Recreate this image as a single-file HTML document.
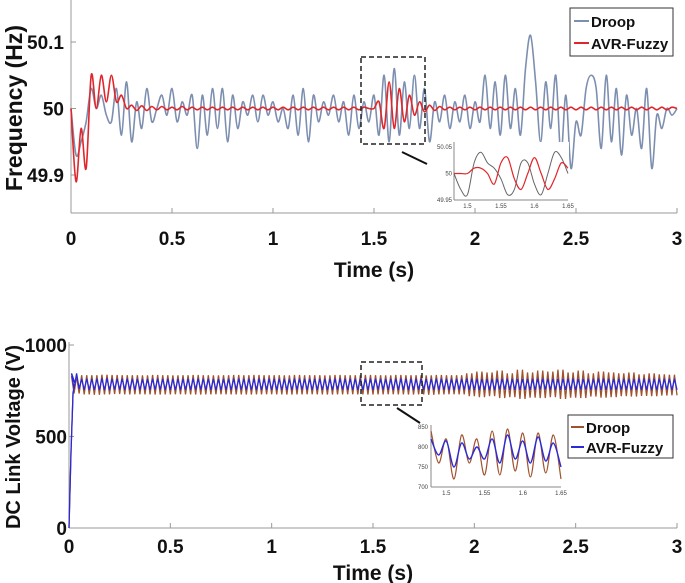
<!DOCTYPE html>
<html><head><meta charset="utf-8"><style>
html,body{margin:0;padding:0;background:#fff;}
svg{display:block;font-family:"Liberation Sans",Arial,sans-serif;}
.tk{font-size:19px;font-weight:bold;fill:#111;}
.ttl{font-size:21px;font-weight:bold;fill:#111;}
.sm{font-size:6px;fill:#444;}
</style></head><body>
<svg id="c" width="685" height="583" viewBox="0 0 685 583"></svg>
<script>
// ---------- DATA ----------
const freqStep = 0.025;
const droopFreq = [50,49.93,49.95,49.98,50.03,50.0,50.02,49.99,49.98,50.03,49.96,50.04,49.95,50.01,49.97,50.03,49.98,50.0,50.02,49.99,
50.03,49.98,50.01,49.99,50.02,49.94,50.02,49.96,50.03,49.97,50.03,49.95,50.02,49.97,50.01,49.99,50.02,49.98,50.02,49.99,
50.01,49.98,50.0,49.97,50.02,49.96,50.03,49.95,50.02,49.98,50.01,49.99,50.02,49.98,50.01,49.96,50.02,49.97,50.01,49.98,
50.02,49.96,50.05,49.95,50.06,49.96,50.04,49.97,50.05,49.97,50.03,49.95,50.01,49.98,50.02,49.97,50.01,49.98,50.02,49.97,
50.01,49.98,50.05,49.97,50.04,49.96,50.05,49.97,50.03,49.96,50.06,50.11,50.04,49.95,50.04,49.97,50.05,49.93,50.02,49.91,
49.98,49.96,50.03,50.05,50.03,49.94,50.05,49.95,50.03,49.93,50.02,49.96,50.0,49.94,50.03,49.91,49.99,49.97,50.0,49.99,50.0];
const fuzzyFreq = [50,49.89,49.97,49.91,50.05,50.0,50.05,50.01,50.05,50.01,50.02,50.0,50.005,49.997,50.004,49.997,50.003,49.998,50.003,49.998,
50.002,49.998,50.003,49.998,50.002,49.998,50.002,49.998,50.002,49.998,50.002,49.998,50.002,49.998,50.002,49.998,50.002,49.998,50.002,49.998,
50.002,49.998,50.002,49.998,50.002,49.998,50.002,49.998,50.002,49.998,50.002,49.998,50.002,49.998,50.002,49.998,50.002,49.998,50.002,50.0,
50.0,50.01,49.97,50.04,49.97,50.03,49.98,50.02,49.99,50.01,49.995,50.005,49.997,50.003,49.998,50.002,49.998,50.002,49.998,50.002,
49.998,50.002,49.998,50.002,49.998,50.002,49.998,50.002,49.998,50.002,49.998,50.002,49.998,50.002,49.998,50.002,49.998,50.002,49.998,50.002,
49.998,50.002,49.998,50.002,49.998,50.002,49.998,50.002,49.998,50.002,49.998,50.002,49.998,50.002,49.998,50.002,49.998,50.002,49.998,50.002,50.0];
const freqTicks = [49.9, 50, 50.1];
const freqTickLabels = ["49.9","50","50.1"];
const timeTicks = [0,0.5,1,1.5,2,2.5,3];
const timeTickLabels = ["0","0.5","1","1.5","2","2.5","3"];
const insetT0 = 1.48, insetStep = 0.01;
const insetDroopFreq = [50.0,49.97,49.96,50.02,50.04,50.02,50.01,49.99,49.96,49.97,50.02,50.02,49.98,49.96,50.0,50.04,50.03,50.0];
const insetFuzzyFreq = [50,50,50,50.01,50.01,50.0,49.98,50.02,50.03,49.99,49.97,50.0,50.03,50.0,49.97,49.99,50.02,50.01];
const voltStep = 0.05;
const rampT = [0, 0.01, 0.02, 0.03];
const rampV = [0, 420, 740, 790];
const droopHigh = [830,835,835,838,836,835,835,834,836,835,834,835,836,835,834,835,836,835,836,835,
835,834,836,835,835,834,836,835,835,836,835,834,836,835,835,834,836,835,835,845,
855,850,860,845,865,850,860,855,865,850,860,845,855,850,845,850,840,845,840,838];
const droopLow = [735,730,728,730,732,730,731,730,729,730,731,730,729,730,731,730,730,729,730,731,
730,729,730,731,730,729,730,731,730,729,730,731,730,729,730,728,730,731,730,720,
715,720,710,715,705,712,710,715,705,712,710,718,712,715,720,718,722,720,724,725];
const fuzzyHigh = [845,815,815,818,815,816,815,814,816,815,814,815,816,815,814,815,816,815,816,815,
815,814,816,815,815,814,816,815,815,816,815,814,816,815,815,814,816,815,815,816,
815,814,816,815,815,814,816,815,815,816,815,814,816,815,815,814,816,815,815,815];
const fuzzyLow = [760,755,755,753,756,755,754,755,756,755,754,755,756,755,754,755,756,755,754,755,
755,754,756,755,755,754,756,755,755,754,756,755,755,754,756,755,755,754,756,755,
755,754,756,755,755,754,756,755,755,754,756,755,755,754,756,755,755,754,756,755];
const voltTicks = [0,500,1000];
const voltTickLabels = ["0","500","1000"];
const insetDroopVolt = [840,760,820,720,830,760,820,730,840,730,845,740,835,725,835,735,830,720];
const insetFuzzyVolt = [820,780,815,750,810,770,800,770,820,760,830,770,815,760,825,765,810,750];

// ---------- RENDER ----------
const NS="http://www.w3.org/2000/svg";
const svg=document.getElementById('c');
function mk(tag,attrs,parent){const e=document.createElementNS(NS,tag);for(const k in attrs)e.setAttribute(k,attrs[k]);(parent||svg).appendChild(e);return e;}
function smooth(pts){let d=`M${pts[0][0].toFixed(2)},${pts[0][1].toFixed(2)}`;
 for(let i=0;i<pts.length-1;i++){const p0=pts[Math.max(0,i-1)],p1=pts[i],p2=pts[i+1],p3=pts[Math.min(pts.length-1,i+2)];
 const c1=[p1[0]+(p2[0]-p0[0])/6,p1[1]+(p2[1]-p0[1])/6],c2=[p2[0]-(p3[0]-p1[0])/6,p2[1]-(p3[1]-p1[1])/6];
 d+=`C${c1[0].toFixed(2)},${c1[1].toFixed(2)} ${c2[0].toFixed(2)},${c2[1].toFixed(2)} ${p2[0].toFixed(2)},${p2[1].toFixed(2)}`;}return d;}
function lin(d0,d1,r0,r1){return v=>r0+(v-d0)*(r1-r0)/(d1-d0);}

// ===== Top: frequency =====
const tx=lin(0,3,71,677), fy=lin(49.9,50.1,175,42);
const gTop=mk('g',{});


mk('line',{x1:71,y1:0,x2:71,y2:213,stroke:'#999','stroke-width':1},gTop);
mk('line',{x1:71,y1:213,x2:677,y2:213,stroke:'#999','stroke-width':1},gTop);
timeTicks.forEach((t,i)=>{mk('line',{x1:tx(t),y1:213,x2:tx(t),y2:208,stroke:'#999'},gTop);
 const l=mk('text',{x:tx(t),y:245,class:'tk','text-anchor':'middle'},gTop);l.textContent=timeTickLabels[i];
 
 });
freqTicks.forEach((v,i)=>{mk('line',{x1:71,y1:fy(v),x2:76,y2:fy(v),stroke:'#999'},gTop);
 const l=mk('text',{x:64,y:fy(v)+7,class:'tk','text-anchor':'end'},gTop);l.textContent=freqTickLabels[i];
 
 });
let t1=mk('text',{x:tx(1.5),y:277,class:'ttl','text-anchor':'middle'},gTop);t1.textContent='Time (s)';

let t2=mk('text',{x:0,y:0,class:'ttl','text-anchor':'middle',style:'font-size:23px',transform:'translate(22,108) rotate(-90)'},gTop);t2.textContent='Frequency (Hz)';

let p1=mk('path',{d:smooth(droopFreq.map((v,i)=>[tx(i*freqStep),fy(v)])),fill:'none',stroke:'#7d8fb0','stroke-width':1.6},gTop);

let p2=mk('path',{d:smooth(fuzzyFreq.map((v,i)=>[tx(i*freqStep),fy(v)])),fill:'none',stroke:'#e0262a','stroke-width':1.6},gTop);

mk('rect',{x:361,y:57,width:64,height:87,fill:'none',stroke:'#222','stroke-width':1.5,'stroke-dasharray':'5,3'},gTop);
mk('line',{x1:402,y1:152,x2:427,y2:164,stroke:'#111','stroke-width':2},gTop);
const ix=lin(1.48,1.65,454,568), iy=lin(49.95,50.05,200,147);
mk('rect',{x:453,y:142,width:116,height:60,fill:'#fff'},gTop);
mk('line',{x1:454,y1:142,x2:454,y2:200,stroke:'#888'},gTop);
mk('line',{x1:454,y1:200,x2:568,y2:200,stroke:'#888'},gTop);
[[50.05,'50.05'],[50,'50'],[49.95,'49.95']].forEach(a=>{const l=mk('text',{x:452,y:iy(a[0])+2,class:'sm','text-anchor':'end'},gTop);l.textContent=a[1];});
[[1.5,'1.5'],[1.55,'1.55'],[1.6,'1.6'],[1.65,'1.65']].forEach(a=>{const l=mk('text',{x:ix(a[0]),y:208,class:'sm','text-anchor':'middle'},gTop);l.textContent=a[1];});
mk('path',{d:smooth(insetDroopFreq.map((v,i)=>[ix(insetT0+i*insetStep),iy(v)])),fill:'none',stroke:'#666','stroke-width':1},gTop);
mk('path',{d:smooth(insetFuzzyFreq.map((v,i)=>[ix(insetT0+i*insetStep),iy(v)])),fill:'none',stroke:'#e0262a','stroke-width':1.2},gTop);
const lg1=mk('g',{},gTop);
mk('rect',{x:570,y:8,width:103,height:48,fill:'#fff',stroke:'#333','stroke-width':1},lg1);
mk('line',{x1:574,y1:21,x2:589,y2:21,stroke:'#7d8fb0','stroke-width':2},lg1);
mk('text',{x:591,y:27,class:'tk',style:'font-size:15px'},lg1).textContent='Droop';
mk('line',{x1:574,y1:43,x2:589,y2:43,stroke:'#e0262a','stroke-width':2},lg1);
mk('text',{x:591,y:49,class:'tk',style:'font-size:15px'},lg1).textContent='AVR-Fuzzy';

// ===== Bottom: voltage =====
const bx=lin(0,3,69,677), vy=lin(0,1000,528,345);
const gB=mk('g',{});


mk('line',{x1:69,y1:342,x2:69,y2:528,stroke:'#999'},gB);
mk('line',{x1:69,y1:528,x2:677,y2:528,stroke:'#999'},gB);
timeTicks.forEach((t,i)=>{mk('line',{x1:bx(t),y1:528,x2:bx(t),y2:523,stroke:'#999'},gB);
 const l=mk('text',{x:bx(t),y:553,class:'tk','text-anchor':'middle'},gB);l.textContent=timeTickLabels[i];
 
 });
voltTicks.forEach((v,i)=>{mk('line',{x1:69,y1:vy(v),x2:74,y2:vy(v),stroke:'#999'},gB);
 const l=mk('text',{x:67,y:vy(v)+7,class:'tk','text-anchor':'end'},gB);l.textContent=voltTickLabels[i];
 
 });
let t3=mk('text',{x:bx(1.5),y:580,class:'ttl','text-anchor':'middle'},gB);t3.textContent='Time (s)';

let t4=mk('text',{x:0,y:0,class:'ttl','text-anchor':'middle',style:'font-size:20px',transform:'translate(20,437) rotate(-90)'},gB);t4.textContent='DC Link Voltage (V)';

function zig(hi,lo){const pts=rampT.map((t,i)=>[bx(t),vy(rampV[i])]);
 for(let i=0;i<hi.length;i++){const t=voltStep*(i+1);
  pts.push([bx(t-0.0375),vy(hi[i])],[bx(t-0.025),vy(lo[i])],[bx(t-0.0125),vy(hi[i])],[bx(t),vy(lo[i])]);}
 return pts.map((p,i)=>(i?'L':'M')+p[0].toFixed(2)+','+p[1].toFixed(2)).join('');}
let p3=mk('path',{d:zig(droopHigh,droopLow),fill:'none',stroke:'#a0522d','stroke-width':1.3},gB);

let p4=mk('path',{d:zig(fuzzyHigh,fuzzyLow),fill:'none',stroke:'#2a2ad8','stroke-width':1.3},gB);

mk('rect',{x:361,y:362,width:61,height:43,fill:'none',stroke:'#222','stroke-width':1.5,'stroke-dasharray':'5,3'},gB);
mk('line',{x1:397,y1:408,x2:420,y2:423,stroke:'#111','stroke-width':2},gB);
const jx=lin(1.48,1.65,431,561), jy=lin(700,850,487,427);
mk('line',{x1:431,y1:425,x2:431,y2:487,stroke:'#888'},gB);
mk('line',{x1:431,y1:487,x2:561,y2:487,stroke:'#888'},gB);
[[850,'850'],[800,'800'],[750,'750'],[700,'700']].forEach(a=>{mk('text',{x:428,y:jy(a[0])+2,class:'sm','text-anchor':'end'},gB).textContent=a[1];});
[[1.5,'1.5'],[1.55,'1.55'],[1.6,'1.6'],[1.65,'1.65']].forEach(a=>{mk('text',{x:jx(a[0]),y:495,class:'sm','text-anchor':'middle'},gB).textContent=a[1];});
mk('path',{d:smooth(insetDroopVolt.map((v,i)=>[jx(insetT0+i*insetStep),jy(v)])),fill:'none',stroke:'#a0522d','stroke-width':1.2},gB);
mk('path',{d:smooth(insetFuzzyVolt.map((v,i)=>[jx(insetT0+i*insetStep),jy(v)])),fill:'none',stroke:'#2a2ad8','stroke-width':1.4},gB);
const lg2=mk('g',{},gB);
mk('rect',{x:568,y:415,width:105,height:43,fill:'#fff',stroke:'#333'},lg2);
mk('line',{x1:571,y1:427,x2:584,y2:427,stroke:'#a0522d','stroke-width':2},lg2);
mk('text',{x:586,y:433,class:'tk',style:'font-size:15px'},lg2).textContent='Droop';
mk('line',{x1:571,y1:447,x2:584,y2:447,stroke:'#2a2ad8','stroke-width':2},lg2);
mk('text',{x:586,y:453,class:'tk',style:'font-size:15px'},lg2).textContent='AVR-Fuzzy';
</script>
</body></html>
